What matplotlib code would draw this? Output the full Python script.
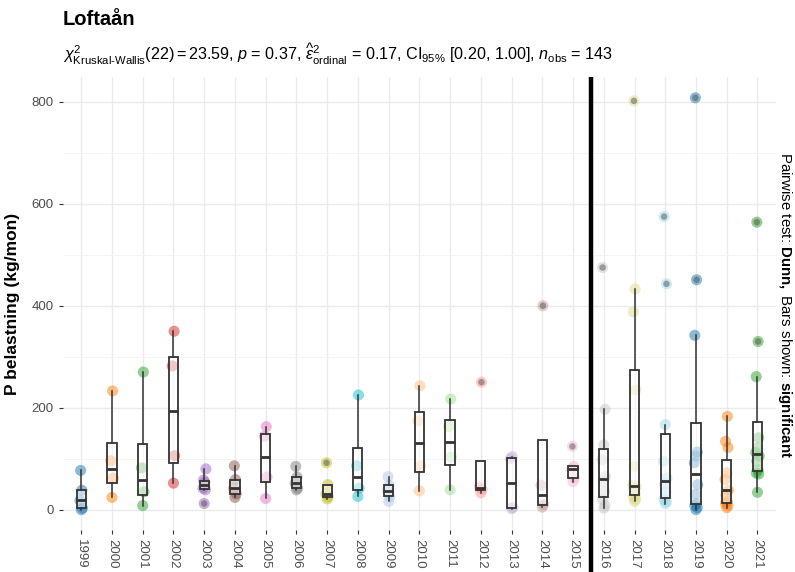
import numpy as np
import matplotlib
matplotlib.use("Agg")
import matplotlib.pyplot as plt
from matplotlib.ticker import MultipleLocator
from matplotlib.transforms import blended_transform_factory

plt.rcParams["font.family"] = ["Liberation Sans", "DejaVu Sans"]
plt.rcParams["mathtext.fontset"] = "custom"
plt.rcParams["mathtext.rm"] = "Liberation Sans"
plt.rcParams["mathtext.it"] = "Liberation Sans:italic"
plt.rcParams["mathtext.bf"] = "Liberation Sans:bold"

# Monthly phosphorus load (kg/mon) per year
years = [str(y) for y in range(1999, 2022)]
p1999 = [0, 3, 18, 38, 77]
p2000 = [24, 62, 96, 233]
p2001 = [8, 35, 82, 270]
p2002 = [52, 106, 282, 350]
p2003 = [12, 39, 42, 54, 58, 80]
p2004 = [24, 31, 42, 59, 86]
p2005 = [22, 64, 144, 163]
p2006 = [39, 42, 52, 64, 85]
p2007 = [21, 25, 31, 49, 92]
p2008 = [26, 42, 86, 225]
p2009 = [16, 26, 37, 48, 65]
p2010 = [37, 86, 174, 243]
p2011 = [39, 103, 163, 217]
p2012 = [33, 40, 45, 250]
p2013 = [2, 4, 100, 104]
p2014 = [5, 10, 48, 400]
p2015 = [55, 62, 80, 85, 124]
p2016 = [3, 8, 20, 36, 55, 65, 98, 127, 197, 475]
p2017 = [16, 20, 25, 30, 40, 45, 48, 85, 235, 388, 433, 802]
p2018 = [12, 15, 20, 35, 50, 62, 95, 167, 443, 575]
p2019 = [0, 4, 8, 12, 30, 49, 92, 105, 113, 342, 451, 808]
p2020 = [4, 8, 12, 16, 28, 38, 59, 72, 122, 134, 183]
p2021 = [34, 70, 72, 78, 95, 105, 112, 121, 141, 261, 330, 564]

series = [p1999, p2000, p2001, p2002, p2003, p2004, p2005, p2006, p2007,
          p2008, p2009, p2010, p2011, p2012, p2013, p2014, p2015, p2016,
          p2017, p2018, p2019, p2020, p2021]

# break between the two measurement periods (between 2015 and 2016)
break_pos = 16.58

palette = ["#1F77B4", "#FF7F0E", "#2CA02C", "#D62728", "#9467BD", "#8C564B",
           "#E377C2", "#7F7F7F", "#BCBD22", "#17BECF", "#AEC7E8", "#FFBB78",
           "#98DF8A", "#FF9896", "#C5B0D5", "#C49C94", "#F7B6D2", "#C7C7C7",
           "#DBDB8D", "#9EDAE5"]

fig = plt.figure(figsize=(7.95, 5.72), dpi=100)
ax = fig.add_axes([0.079, 0.073, 0.897, 0.792])

jitter = [0.0, 0.04, -0.04, 0.02, -0.02, 0.055, -0.055]
for i, vals in enumerate(series):
    v = np.asarray(vals, float)
    xs = np.array([i + jitter[k % len(jitter)] for k in range(len(v))])
    ax.scatter(xs, v, s=64, color=palette[i % len(palette)], alpha=0.5,
               edgecolors="none", zorder=2)
    # Tukey outliers marked on top of their points
    q1, q3 = np.percentile(v, [25, 75])
    iqr = q3 - q1
    out = (v < q1 - 1.5 * iqr) | (v > q3 + 1.5 * iqr)
    ax.scatter(xs[out], v[out], s=22, color="#444444", alpha=0.45,
               edgecolors="none", zorder=4)

bp = ax.boxplot(series, positions=range(len(series)), widths=0.3, whis=1.5,
                patch_artist=True, showfliers=False, manage_ticks=False,
                boxprops=dict(facecolor=(1, 1, 1, 0.5), edgecolor="#333333",
                              linewidth=1.3),
                medianprops=dict(color="#333333", linewidth=2.0),
                whiskerprops=dict(color="#333333", linewidth=1.1),
                capprops=dict(linewidth=0))
for key in ("boxes", "medians", "whiskers"):
    for artist in bp[key]:
        artist.set_zorder(3)

allv = np.concatenate([np.asarray(v, float) for v in series])
lo, hi = allv.min(), allv.max()
pad = 0.05 * (hi - lo)
ax.set_ylim(lo - pad, hi + pad)
ax.set_xlim(-0.6, len(series) - 0.4)

ax.set_xticks(range(len(series)))
ax.set_xticklabels(years, rotation=-90, fontsize=9.5, color="#4d4d4d")
ax.yaxis.set_major_locator(MultipleLocator(200))
ax.yaxis.set_minor_locator(MultipleLocator(100))
ax.tick_params(axis="y", which="major", labelsize=9.5, labelcolor="#4d4d4d",
               color="#333333", length=3)
ax.tick_params(axis="y", which="minor", length=0)
ax.tick_params(axis="x", color="#333333", length=3, pad=3)

ax.grid(True, which="major", color="#ebebeb", linewidth=1.0, zorder=0)
ax.grid(True, which="minor", axis="y", color="#f3f3f3", linewidth=0.6,
        zorder=0)
ax.set_axisbelow(True)
for s in ax.spines.values():
    s.set_visible(False)

ax.set_ylabel("P belastning (kg/mon)", fontsize=12.5, fontweight="bold")
ax.yaxis.set_label_coords(-0.06, 0.5)

# period break line, running down through the x labels
tr = blended_transform_factory(ax.transData, ax.transAxes)
ax.plot([break_pos, break_pos], [1.0, -0.2], transform=tr, color="black",
        linewidth=3.2, clip_on=False, zorder=5, solid_capstyle="butt")

fig.text(0.079, 0.966, "Loftaån", fontsize=14.5, fontweight="bold",
         va="center", ha="left")
subtitle = (r"$\chi^2_{\mathrm{Kruskal‐Wallis}}(22) = 23.59$, "
            r"$\mathit{p}$ = 0.37, "
            r"$\widehat{\varepsilon}^2_{\mathrm{ordinal}}$ = 0.17, "
            r"CI$_{95\%}$ [0.20, 1.00], "
            r"$\mathit{n}_{\mathrm{obs}}$ = 143")
fig.text(0.079, 0.905, subtitle, fontsize=11.6, va="center", ha="left")

fig.text(0.988, 0.467,
         r"Pairwise test: $\mathbf{Dunn,}$ Bars shown: $\mathbf{significant}$",
         rotation=-90, fontsize=10.8, va="center", ha="center")

fig.savefig("out.png", dpi=100)
